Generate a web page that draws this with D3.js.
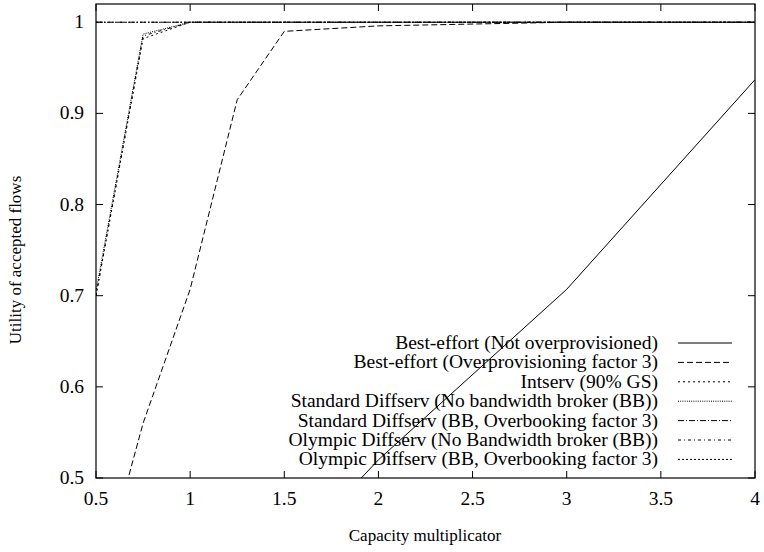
<!DOCTYPE html>
<html><head><meta charset="utf-8">
<script src="https://cdn.jsdelivr.net/npm/d3@7"></script>
<style>body{margin:0;background:#fff}svg{display:block}</style>
</head><body><svg id="c" width="764" height="552"></svg>
<script>
const capacity = [0.5, 0.75, 1, 1.25, 1.5, 2, 3, 4];
const bestEffort = [0.25, 0.30, 0.33, 0.37, 0.41, 0.52, 0.707, 0.937];
const bestEffortOver3 = [0.37, 0.56, 0.707, 0.915, 0.99, 0.996, 1.0, 1.0];
const intserv = [0.70, 0.982, 1, 1, 1, 1, 1, 1];
const stdDiffNoBB = [0.705, 0.987, 1, 1, 1, 1, 1, 1];
const stdDiffBB = [1, 1, 1, 1, 1, 1, 1, 1];
const olyDiffNoBB = [0.70, 0.985, 1, 1, 1, 1, 1, 1];
const olyDiffBB = [1, 1, 1, 1, 1, 1, 1, 1];
const seriesNames = ["Best-effort (Not overprovisioned)","Best-effort (Overprovisioning factor 3)","Intserv (90% GS)","Standard Diffserv (No bandwidth broker (BB))","Standard Diffserv (BB, Overbooking factor 3)","Olympic Diffserv (No Bandwidth broker (BB))","Olympic Diffserv (BB, Overbooking factor 3)"];
const seriesValues = [bestEffort, bestEffortOver3, intserv, stdDiffNoBB, stdDiffBB, olyDiffNoBB, olyDiffBB];
const xTicks = [0.5, 1, 1.5, 2, 2.5, 3, 3.5, 4];
const yTicks = [0.5, 0.6, 0.7, 0.8, 0.9, 1];
const dashes = ["none","6,3","2,3","1,1.2","6,2,1,2","3,3,1,3","2,2"];

const FONT = "'Liberation Serif', 'Times New Roman', Times, serif";
const FS = 19.5;
const svg = d3.select("#c");
const L=96,R=755,T=4,B=478;
const x = d3.scaleLinear().domain([0.5,4]).range([L,R]);
const y = d3.scaleLinear().domain([0.5,1.02]).range([B,T]);

function txt(sel, fs){ return sel.attr("font-family",FONT).attr("font-size",fs||FS).attr("fill","#000"); }

svg.append("defs").append("clipPath").attr("id","clip").append("rect")
  .attr("x",L).attr("y",T).attr("width",R-L).attr("height",B-T);

const tl=7;
const g = svg.append("g").attr("stroke","#000").attr("stroke-width",1);
xTicks.forEach(t=>{
  g.append("line").attr("x1",x(t)).attr("x2",x(t)).attr("y1",B).attr("y2",B-tl);
  g.append("line").attr("x1",x(t)).attr("x2",x(t)).attr("y1",T).attr("y2",T+tl);
});
yTicks.forEach(t=>{
  g.append("line").attr("x1",L).attr("x2",L+tl).attr("y1",y(t)).attr("y2",y(t));
  g.append("line").attr("x1",R).attr("x2",R-tl).attr("y1",y(t)).attr("y2",y(t));
});
txt(svg.selectAll(".xl").data(xTicks).enter().append("text"))
  .attr("x",d=>x(d)).attr("y",B+27).attr("text-anchor","middle").text(d=>d3.format("")(d));
txt(svg.selectAll(".yl").data(yTicks).enter().append("text"))
  .attr("x",L-12).attr("y",d=>y(d)+6).attr("text-anchor","end").text(d=>d3.format("")(d));

const line = d3.line().x((d,i)=>x(capacity[i])).y(d=>y(d));
const lg = svg.append("g").attr("clip-path","url(#clip)");
seriesValues.forEach((vals,k)=>{
  lg.append("path").attr("d",line(vals)).attr("fill","none").attr("stroke","#000")
    .attr("stroke-width",1).attr("stroke-dasharray",dashes[k]);
});

seriesNames.forEach((n,k)=>{
  const yy = 343 + k*19.4;
  txt(svg.append("text")).attr("x",658).attr("y",yy+6).attr("text-anchor","end").text(n);
  svg.append("line").attr("x1",678).attr("x2",732).attr("y1",yy).attr("y2",yy)
    .attr("stroke","#000").attr("stroke-width",1).attr("stroke-dasharray",dashes[k]);
});

svg.append("rect").attr("x",L).attr("y",T).attr("width",R-L).attr("height",B-T)
  .attr("fill","none").attr("stroke","#000").attr("stroke-width",1.2);

txt(svg.append("text"),17).attr("x",425).attr("y",541).attr("text-anchor","middle").text("Capacity multiplicator");
txt(svg.append("text"),17).attr("transform",`translate(21,260) rotate(-90)`).attr("text-anchor","middle").text("Utility of accepted flows");
</script></body></html>
